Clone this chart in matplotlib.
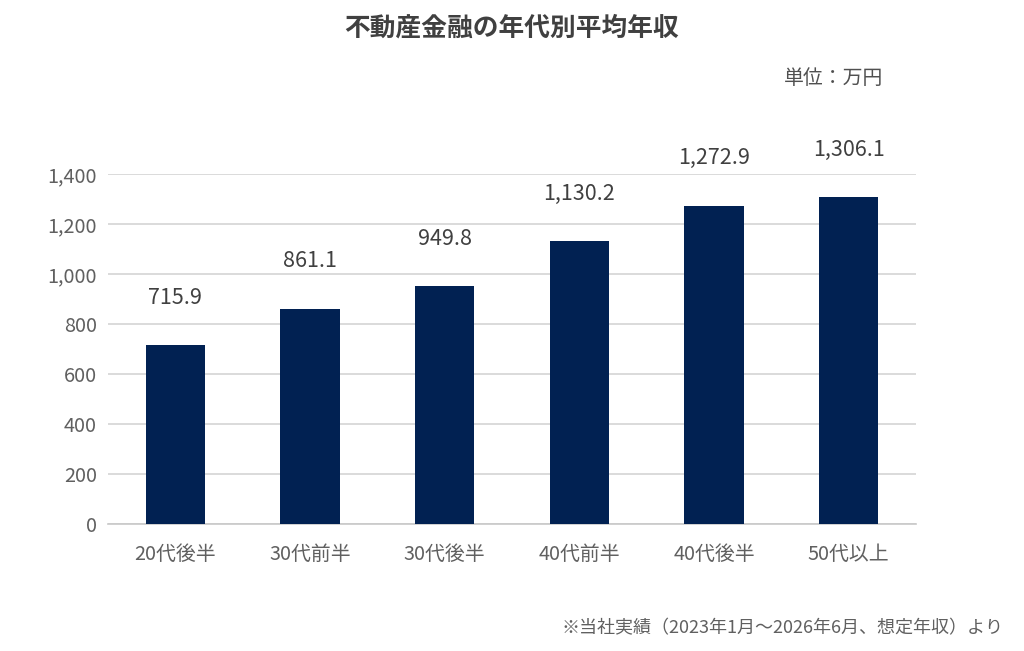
import matplotlib
matplotlib.use("Agg")
import matplotlib.pyplot as plt

plt.rcParams['font.family'] = ['Noto Sans CJK JP', 'DejaVu Sans']

# data
categories = ["20代後半", "30代前半", "30代後半", "40代前半", "40代後半", "50代以上"]
income = [715.9, 861.1, 949.8, 1130.2, 1272.9, 1306.1]
yticks = [0, 200, 400, 600, 800, 1000, 1200, 1400]

bar_color = "#012152"

fig = plt.figure(figsize=(10.24, 6.51), dpi=100)
ax = fig.add_axes([0.1055, 0.195, 0.789, 0.538])

x = list(range(len(categories)))
ax.bar(x, income, width=0.44, color=bar_color, zorder=3)

for xi, v in zip(x, income):
    ax.annotate(f"{v:,.1f}", (xi, v), xytext=(0, 34), textcoords="offset points",
                ha="center", va="center", fontsize=15.5, color="#404040",
                annotation_clip=False)

ax.set_xlim(-0.5, len(categories) - 0.5)
ax.set_ylim(0, 1400)
ax.set_yticks(yticks)
ax.set_yticklabels([f"{t:,}" for t in yticks])
ax.set_xticks(x)
ax.set_xticklabels(categories)

ax.grid(axis="y", color="#d4d4d4", linewidth=1.2, zorder=0)
for s in ["top", "right", "left"]:
    ax.spines[s].set_visible(False)
ax.spines["bottom"].set_color("#c8c8c8")
ax.spines["bottom"].set_linewidth(1.2)
ax.tick_params(axis="both", length=0, labelsize=14.3, labelcolor="#606060")
ax.tick_params(axis="y", pad=8)
ax.tick_params(axis="x", pad=14)

fig.text(0.5, 0.957, "不動産金融の年代別平均年収", ha="center", va="center",
         fontsize=18.5, fontweight="bold", color="#404040")
fig.text(0.863, 0.88, "単位：万円", ha="right", va="center",
         fontsize=14.3, color="#505050")
fig.text(0.98, 0.035, "※当社実績（2023年1月～2026年6月、想定年収）より", ha="right",
         va="center", fontsize=13, color="#606060")

fig.savefig("out.png", dpi=100, facecolor="white")
